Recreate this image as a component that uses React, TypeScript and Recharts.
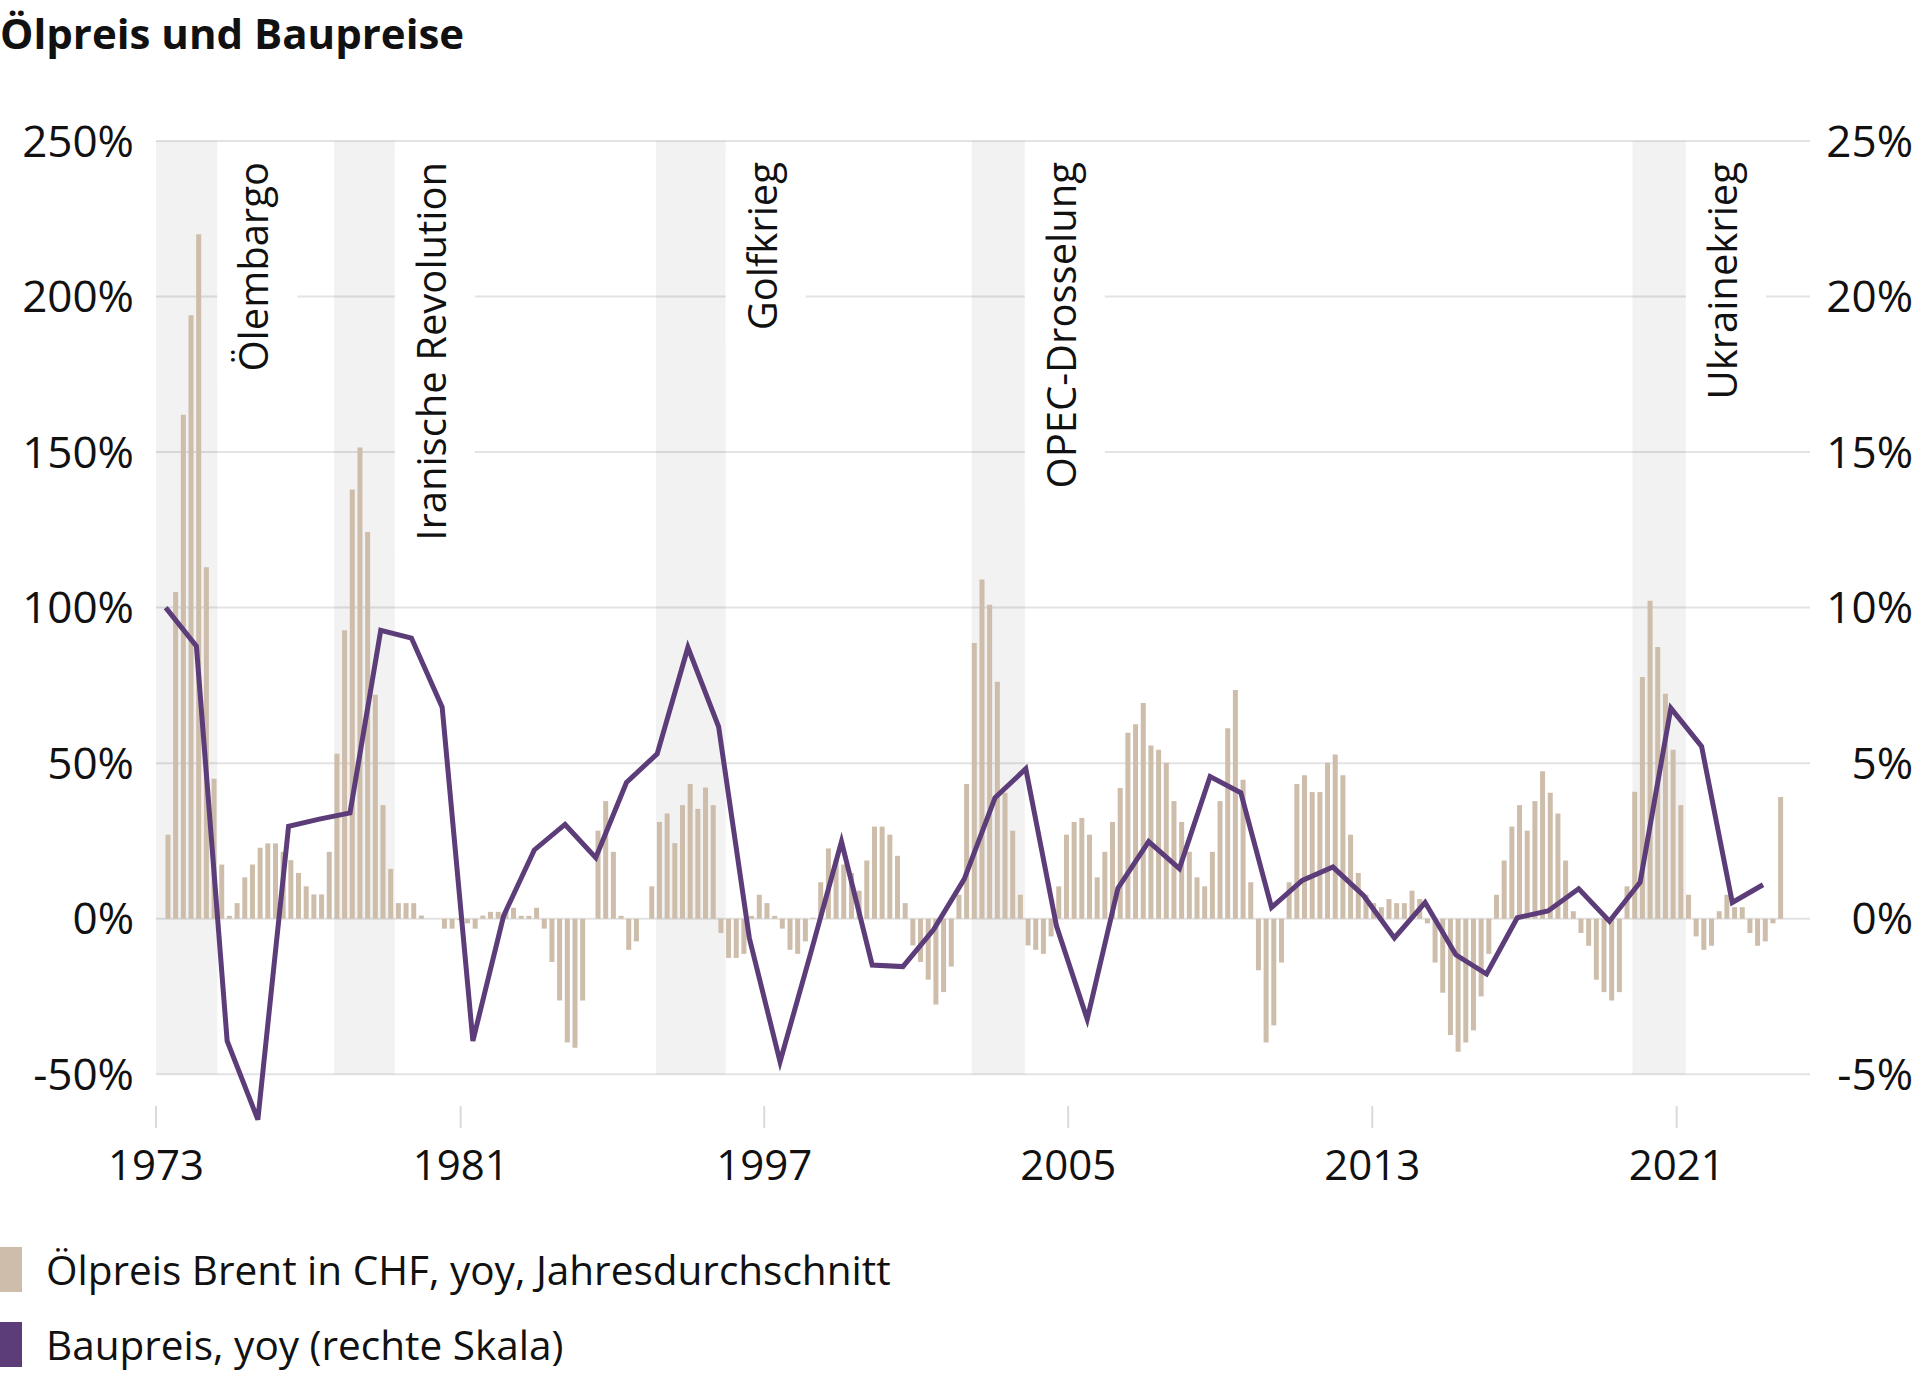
import { useLayoutEffect, useRef, useState } from "react";
import {
  ComposedChart,
  Bar,
  Line,
  XAxis,
  YAxis,
  CartesianGrid,
  ReferenceArea,
} from "recharts";

const FONT = "'Open Sans', sans-serif";
const TEXT = "#111111";
const OIL_COLOR = "#cdbdaa";
const BAU_COLOR = "#5c3d79";

// x unit: one step of the yearly Baupreis series (point k sits at x = k)
const X_DOMAIN = [-0.316, 53.53];
const BAR_SHIFT = 0.085; // bars start at the point, they are not centred on it
const TICK_POS = [-0.316, 9.603, 19.486, 29.38, 39.28, 49.19];
const TICK_LABELS = ["1973", "1981", "1997", "2005", "2013", "2021"];

const LEFT_TICKS = [-50, 0, 50, 100, 150, 200, 250];
const RIGHT_TICKS = [-5, 0, 5, 10, 15, 20, 25];

// shaded crisis periods
const EVENT_NAMES = ["Ölembargo", "Iranische Revolution", "Golfkrieg", "OPEC-Drosselung", "Ukrainekrieg"];
const EVENT_FROM = [-0.316, 5.48, 15.96, 26.24, 47.75];
const EVENT_TO = [1.68, 7.46, 18.23, 27.97, 49.49];

// Ölpreis Brent in CHF, yoy in % (quarterly)
const OIL = [
  27, 105, 162, 194, 220, 113, 45, 17.4, 0.9, 5,
  13.3, 17.4, 22.8, 24.2, 24.2, 21.5, 18.8, 14.7, 10.4, 7.8,
  7.8, 21.5, 53, 92.7, 138, 151.5, 124.3, 72, 36.5, 16,
  5, 5, 5, 1, 0, 0, -3.2, -3.2, -0.5, -1.5,
  -3.2, 1, 2.2, 2.2, 2.5, 3.5, 0.9, 0.9, 3.5, -3.2,
  -13.9, -26.3, -39.8, -41.5, -26.3, 0, 28.3, 37.8, 21.5, 0.9,
  -10, -7.3, 0, 10.4, 31.1, 33.8, 24.3, 36.5, 43.3, 35.3,
  42.2, 36.5, -4.6, -12.6, -12.6, -11.3, 0.9, 7.7, 5, 0.9,
  -3.2, -10, -11.3, -7.3, 0.3, 11.7, 22.6, 19, 17.4, 14.7,
  9, 18.7, 29.6, 29.6, 27, 20.2, 5, -8.6, -13.9, -19.6,
  -27.6, -23.6, -15.4, 7.7, 43.3, 88.6, 109, 100.9, 76.2, 40.5,
  28.3, 7.7, -8.6, -10, -11.3, -5.7, 10.4, 27, 31.1, 32.4,
  27, 13.3, 21.5, 31.1, 42, 59.8, 62.5, 69.3, 55.7, 54.3,
  50.1, 37.8, 31.1, 21.5, 13.3, 10.4, 21.5, 37.8, 61.2, 73.5,
  44.7, 11.7, -16.6, -39.8, -34.3, -14.1, 11.7, 43.3, 46.1, 40.7,
  40.7, 50.1, 52.8, 46.1, 27, 14.7, 7.7, 5, 3.7, 6.3,
  5, 5, 9, 6.3, -1.5, -14.1, -23.8, -37.4, -42.8, -39.8,
  -35.9, -25, -11.3, 7.7, 18.7, 29.6, 36.5, 28.3, 37.8, 47.4,
  40.5, 33.8, 18.7, 2.4, -4.6, -8.7, -19.6, -23.6, -26.3, -23.6,
  10.4, 40.8, 77.7, 102.2, 87.3, 72.3, 54.3, 36.5, 7.7, -5.7,
  -10, -8.7, 2.4, 7.7, 3.7, 3.7, -4.6, -8.7, -7.3, -1.5,
  39.1,
];

// Baupreis, yoy in % (yearly, right scale)
const BAU = [
  10.0, 8.76, -3.93, -6.46, 2.97, 3.2, 3.4, 9.27, 9.02, 6.8,
  -3.93, 0.09, 2.21, 3.03, 1.96, 4.38, 5.3, 8.72, 6.17, -0.62,
  -4.6, -1.1, 2.48, -1.49, -1.54, -0.35, 1.28, 3.89, 4.82, -0.24,
  -3.23, 0.98, 2.48, 1.61, 4.57, 4.05, 0.36, 1.23, 1.66, 0.74,
  -0.62, 0.52, -1.16, -1.78, 0.03, 0.25, 0.96, -0.08, 1.17, 6.77,
  5.54, 0.52, 1.09,
];

const data = OIL.map((oil, j) => ({
  x: j / 4,
  oil,
  bau: j % 4 === 0 && BAU[j / 4] !== undefined ? BAU[j / 4] : null,
}));

function XTick({ x, y, payload }: any) {
  const label = TICK_LABELS[TICK_POS.indexOf(payload.value)];
  return (
    <g>
      <line x1={x} x2={x} y1={y - 48} y2={y - 26} stroke="#dadada" strokeWidth={2} />
      <text x={x} y={y + 26} textAnchor="middle" fontSize={42} fill={TEXT} fontFamily={FONT}>
        {label}
      </text>
    </g>
  );
}

function RightTick({ x, y, payload }: any) {
  return (
    <text x={x + 103} y={y} dy="0.355em" textAnchor="end" fontSize={44} fill={TEXT} fontFamily={FONT}>
      {payload.value}%
    </text>
  );
}

// rotated label with a white box that breaks the grid lines
function EventLabel({ viewBox, name }: any) {
  const ref = useRef<SVGTextElement>(null);
  const [len, setLen] = useState(0);
  useLayoutEffect(() => {
    if (ref.current) setLen(ref.current.getComputedTextLength());
  }, [name]);
  if (!viewBox) return null;
  const right = viewBox.x + viewBox.width;
  const tx = right + 51;
  const ty = viewBox.y + 21;
  return (
    <g>
      <rect x={right} y={viewBox.y + 9} width={80} height={len + 26} fill="#ffffff" />
      <text
        ref={ref}
        x={tx}
        y={ty}
        transform={`rotate(-90 ${tx} ${ty})`}
        textAnchor="end"
        fontSize={40}
        fill={TEXT}
        fontFamily={FONT}
      >
        {name}
      </text>
    </g>
  );
}

export default function App() {
  return (
    <div
      style={{
        position: "absolute",
        left: 0,
        top: 0,
        width: 1920,
        height: 1377,
        background: "#ffffff",
        fontFamily: FONT,
        color: TEXT,
        overflow: "hidden",
      }}
    >
      <ComposedChart
        width={1920}
        height={1377}
        data={data}
        margin={{ top: 141, right: 0, bottom: 153, left: 0 }}
      >
        <CartesianGrid
          xAxisId="main"
          yAxisId="left"
          vertical={false}
          horizontalValues={LEFT_TICKS}
          stroke="#e3e3e3"
          strokeWidth={2}
        />
        <XAxis
          xAxisId="main"
          type="number"
          dataKey="x"
          domain={X_DOMAIN}
          ticks={TICK_POS}
          interval={0}
          height={100}
          axisLine={false}
          tickLine={false}
          tickSize={0}
          tickMargin={0}
          tick={<XTick />}
        />
        <XAxis
          xAxisId="bar"
          type="number"
          dataKey="x"
          domain={[X_DOMAIN[0] - BAR_SHIFT, X_DOMAIN[1] - BAR_SHIFT]}
          hide
        />
        <YAxis
          yAxisId="left"
          width={156}
          domain={[-66, 250]}
          ticks={LEFT_TICKS}
          interval={0}
          axisLine={false}
          tickLine={false}
          tickSize={0}
          tickMargin={22}
          tickFormatter={(v: number) => `${v}%`}
          tick={{ fontSize: 44, fill: TEXT, fontFamily: FONT }}
        />
        <YAxis
          yAxisId="right"
          orientation="right"
          width={110}
          domain={[-6.6, 25]}
          ticks={RIGHT_TICKS}
          interval={0}
          axisLine={false}
          tickLine={false}
          tickSize={0}
          tickMargin={0}
          tick={<RightTick />}
        />
        {EVENT_NAMES.map((name, i) => (
          <ReferenceArea
            key={name}
            xAxisId="main"
            yAxisId="left"
            x1={EVENT_FROM[i]}
            x2={EVENT_TO[i]}
            y1={-50}
            y2={250}
            fill="#000000"
            fillOpacity={0.05}
            stroke="none"
            label={<EventLabel name={name} />}
          />
        ))}
        <Bar
          xAxisId="bar"
          yAxisId="left"
          dataKey="oil"
          fill={OIL_COLOR}
          barSize={5}
          isAnimationActive={false}
        />
        <Line
          xAxisId="main"
          yAxisId="right"
          type="linear"
          dataKey="bau"
          stroke={BAU_COLOR}
          strokeWidth={5}
          dot={false}
          activeDot={false}
          connectNulls
          isAnimationActive={false}
        />
      </ComposedChart>

      <div
        style={{
          position: "absolute",
          left: 0,
          top: 12,
          fontSize: 42,
          lineHeight: "41px",
          fontWeight: 700,
          whiteSpace: "nowrap",
        }}
      >
        Ölpreis und Baupreise
      </div>

      {[
        { color: OIL_COLOR, label: "Ölpreis Brent in CHF, yoy, Jahresdurchschnitt", top: 1247 },
        { color: BAU_COLOR, label: "Baupreis, yoy (rechte Skala)", top: 1322 },
      ].map((item) => (
        <div
          key={item.label}
          style={{
            position: "absolute",
            left: 0,
            top: item.top,
            display: "flex",
            alignItems: "center",
            height: 45,
            whiteSpace: "nowrap",
          }}
        >
          <div style={{ width: 22, height: 45, background: item.color }} />
          <div style={{ marginLeft: 24, fontSize: 40.5, lineHeight: "45px" }}>{item.label}</div>
        </div>
      ))}
    </div>
  );
}
